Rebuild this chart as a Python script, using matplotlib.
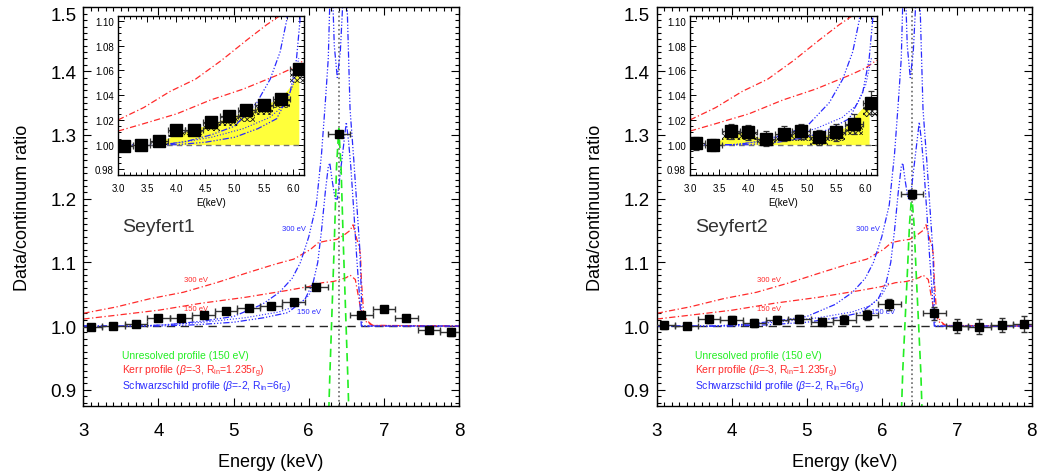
import matplotlib
matplotlib.use("Agg")
import matplotlib.pyplot as plt
from matplotlib.ticker import MultipleLocator

plt.rcParams['font.family'] = ['Liberation Sans', 'DejaVu Sans']
plt.rcParams['mathtext.fontset'] = 'custom'
plt.rcParams['mathtext.rm'] = 'Liberation Sans'
plt.rcParams['mathtext.it'] = 'Liberation Sans:italic'
plt.rcParams['hatch.linewidth'] = 0.6

# binned data (keV centres, bin half width 0.15)
e_bins = [3.1, 3.4, 3.7, 4.0, 4.3, 4.6, 4.9, 5.2, 5.5, 5.8, 6.1, 6.4, 6.7, 7.0, 7.3, 7.6, 7.9]
sy1 = [0.999, 1.000, 1.003, 1.012, 1.012, 1.018, 1.023, 1.028, 1.032, 1.037, 1.061, 1.302,
       1.018, 1.026, 1.012, 0.994, 0.990]
sy1_err = [0.002, 0.002, 0.002, 0.002, 0.002, 0.002, 0.002, 0.002, 0.002, 0.002, 0.003, 0.004,
           0.004, 0.004, 0.004, 0.005, 0.006]
sy2 = [1.001, 1.000, 1.011, 1.010, 1.005, 1.009, 1.011, 1.006, 1.010, 1.017, 1.034, 1.207,
       1.020, 1.000, 0.999, 1.001, 1.003]
sy2_err = [0.005, 0.005, 0.006, 0.006, 0.006, 0.006, 0.006, 0.006, 0.007, 0.008, 0.009, 0.007,
           0.010, 0.011, 0.012, 0.011, 0.012]

# Kerr profiles (red)
kerr300_e = [3.0, 3.44, 3.89, 4.33, 4.77, 5.22, 5.55, 5.80, 6.02, 6.13, 6.25, 6.37, 6.46, 6.55,
             6.59, 6.64, 6.67, 6.69, 6.70, 6.73, 6.78, 6.85, 8.0]
kerr300_r = [1.020, 1.030, 1.043, 1.053, 1.068, 1.085, 1.097, 1.105, 1.120, 1.131, 1.134, 1.136,
             1.142, 1.150, 1.159, 1.136, 1.125, 1.110, 1.073, 1.022, 1.008, 1.001, 1.000]
kerr150_e = [3.0, 3.44, 4.01, 4.58, 5.15, 5.72, 6.0, 6.18, 6.33, 6.42, 6.50, 6.55, 6.62, 6.66,
             6.70, 6.77, 6.85, 8.0]
kerr150_r = [1.011, 1.017, 1.025, 1.036, 1.045, 1.056, 1.062, 1.068, 1.070, 1.073, 1.076, 1.080,
             1.073, 1.047, 1.022, 1.006, 1.001, 1.000]

# Schwarzschild profiles (blue)
schw300_e = [3.0, 3.8, 4.2, 4.6, 5.0, 5.38, 5.61, 5.78, 5.89, 6.0, 6.1, 6.17, 6.22, 6.26, 6.29,
             6.31, 6.34, 6.38, 6.42, 6.45, 6.47, 6.50, 6.55, 6.60, 6.64, 6.68, 6.70, 6.71, 8.0]
schw300_r = [1.0, 1.0, 1.003, 1.008, 1.015, 1.034, 1.053, 1.075, 1.10, 1.14, 1.19, 1.27, 1.35,
             1.42, 1.55, 1.55, 1.44, 1.39, 1.43, 1.50, 1.55, 1.55, 1.34, 1.26, 1.19, 1.12, 1.05,
             1.0, 1.0]
schw150_e = [3.0, 4.0, 4.5, 5.0, 5.4, 5.72, 5.95, 6.06, 6.12, 6.17, 6.22, 6.26, 6.28, 6.31, 6.35,
             6.38, 6.42, 6.46, 6.50, 6.53, 6.56, 6.60, 6.64, 6.68, 6.70, 8.0]
schw150_r = [1.0, 1.0, 1.002, 1.006, 1.013, 1.021, 1.042, 1.069, 1.10, 1.15, 1.21, 1.25, 1.256,
             1.23, 1.20, 1.199, 1.24, 1.28, 1.32, 1.29, 1.25, 1.18, 1.105, 1.04, 1.0, 1.0]
schwdot_e = [3.7, 4.1, 4.6, 5.15, 5.6, 5.85, 6.0, 6.1]
schwdot_r = [1.0, 1.002, 1.006, 1.013, 1.022, 1.032, 1.048, 1.07]

# unresolved gaussian line (green)
gauss_e = [6.15, 6.20, 6.25, 6.28, 6.30, 6.32, 6.34, 6.37, 6.40, 6.43, 6.46, 6.48, 6.50, 6.52,
           6.55, 6.60, 6.65]
gauss1_r = [0.50, 0.60, 0.80, 0.92, 0.99, 1.06, 1.13, 1.25, 1.31, 1.25, 1.13, 1.06, 0.99, 0.92,
            0.80, 0.60, 0.50]
gauss2_r = [0.52, 0.62, 0.82, 0.93, 0.98, 1.03, 1.08, 1.16, 1.207, 1.16, 1.08, 1.03, 0.98, 0.93,
            0.82, 0.62, 0.52]

# inset shading
fill1_e = [3.6, 4.01, 4.58, 5.15, 5.61, 5.83, 6.0, 6.09, 6.10]
fill1_r = [1.0, 1.0087, 1.0167, 1.026, 1.034, 1.040, 1.050, 1.064, 1.064]
fill2_e = [3.43, 3.65, 3.94, 4.34, 4.62, 4.91, 5.14, 5.36, 5.65, 5.93, 6.05, 6.06]
fill2_r = [1.0, 1.010, 1.010, 1.003, 1.008, 1.010, 1.007, 1.008, 1.014, 1.029, 1.034, 1.034]
hatch1_low = [0.999, 1.000, 1.000, 1.006, 1.008, 1.011, 1.015, 1.018, 1.024, 1.030, 1.050]
hatch2_low = [1.001, 1.000, 1.004, 1.004, 1.000, 1.003, 1.003, 1.000, 1.003, 1.008, 1.022]

RED = '#ff2a2a'
BLUE = '#2a2aff'
GREEN = '#22ee22'
red_ls = (0, (5, 2, 1, 2))
blue_ls = (0, (5, 1.5, 1, 1.5, 1, 1.5, 1, 1.5))


def draw_models(ax):
    ax.plot(kerr300_e, kerr300_r, color=RED, ls=red_ls, lw=0.9)
    ax.plot(kerr150_e, kerr150_r, color=RED, ls=red_ls, lw=0.9)
    ax.plot(schw300_e, schw300_r, color=BLUE, ls=blue_ls, lw=0.9)
    ax.plot(schw150_e, schw150_r, color=BLUE, ls=blue_ls, lw=0.9)
    ax.plot(schwdot_e, schwdot_r, color=BLUE, ls=':', lw=0.8)


def draw_panel(ax, data, err, gauss_r, name):
    ax.axhline(1.0, color='0.15', ls=(0, (6, 4)), lw=1.0)
    ax.axvline(6.4, color='0.4', ls=':', lw=1.2)
    draw_models(ax)
    ax.plot(gauss_e, gauss_r, color=GREEN, ls=(0, (5, 3)), lw=1.2)
    ax.errorbar(e_bins, data, xerr=0.15, yerr=err, fmt='s', color='k', ms=6,
                ecolor='0.2', elinewidth=1, capsize=2, capthick=1, zorder=5)
    ax.set_xlim(3, 8)
    ax.set_ylim(0.875, 1.5)
    ax.set_yticks([0.9, 1.0, 1.1, 1.2, 1.3, 1.4, 1.5])
    ax.set_yticklabels(['0.9', '1.0', '1.1', '1.2', '1.3', '1.4', '1.5'])
    ax.get_yticklabels()[-1].set_va('top')
    ax.xaxis.set_minor_locator(MultipleLocator(0.1))
    ax.yaxis.set_minor_locator(MultipleLocator(0.01))
    ax.tick_params(which='both', direction='in', top=True, right=True, width=0.8)
    ax.tick_params(which='major', length=6, labelsize=13.5)
    ax.tick_params(which='minor', length=3)
    ax.tick_params(axis='x', pad=12)
    ax.tick_params(axis='y', pad=5)
    ax.set_xlabel('Energy (keV)', fontsize=13)
    ax.set_ylabel('Data/continuum ratio', fontsize=13)
    ax.xaxis.set_label_coords(0.5, -0.118)
    ax.yaxis.set_label_coords(-0.14, 0.5)
    ax.text(3.51, 1.149, name, fontsize=14, color='#333333')
    ax.text(3.51, 0.955, 'Unresolved profile (150 eV)', fontsize=7.5, color=GREEN, va='center')
    ax.text(3.51, 0.930, r'Kerr profile ($\it{\beta}$=-3, R$_{\rm in}$=1.235r$_{\rm g}$)',
            fontsize=7.5, color=RED, va='center')
    ax.text(3.51, 0.905, r'Schwarzschild profile ($\it{\beta}$=-2, R$_{\rm in}$=6r$_{\rm g}$)',
            fontsize=7.5, color=BLUE, va='center')
    ax.text(5.65, 1.153, '300 eV', fontsize=5.5, color=BLUE, va='center')
    ax.text(5.85, 1.023, '150 eV', fontsize=5.5, color=BLUE, va='center')
    ax.text(4.34, 1.073, '300 eV', fontsize=5.5, color=RED, va='center')
    ax.text(4.34, 1.028, '150 eV', fontsize=5.5, color=RED, va='center')
    for s in ax.spines.values():
        s.set_linewidth(1.0)


def draw_inset(ax, data, err, fill_e, fill_r, hatch_low):
    ax.fill_between(fill_e, 1.0, fill_r, color='#ffff3a', lw=0)
    n = len(hatch_low)
    heights = [data[i] - hatch_low[i] for i in range(n)]
    ax.bar(e_bins[:n], heights, bottom=hatch_low, width=0.3, facecolor='none',
           edgecolor='0.1', hatch='xxxxxx', lw=0)
    ax.axhline(1.0, color='0.45', ls=(0, (4, 3)), lw=1.0)
    draw_models(ax)
    ax.errorbar(e_bins[:n], data[:n], xerr=0.15, yerr=err[:n], fmt='s', color='k', ms=8,
                ecolor='0.2', elinewidth=0.9, capsize=2, capthick=0.9, zorder=5)
    ax.set_xlim(3.0, 6.19)
    ax.set_ylim(0.9755, 1.104)
    ax.set_xticks([3.0, 3.5, 4.0, 4.5, 5.0, 5.5, 6.0])
    ax.set_xticklabels(['3.0', '3.5', '4.0', '4.5', '5.0', '5.5', '6.0'])
    ax.set_yticks([0.98, 1.00, 1.02, 1.04, 1.06, 1.08, 1.10])
    ax.set_yticklabels(['0.98', '1.00', '1.02', '1.04', '1.06', '1.08', '1.10'])
    ax.xaxis.set_minor_locator(MultipleLocator(0.1))
    ax.yaxis.set_minor_locator(MultipleLocator(0.005))
    ax.tick_params(which='both', direction='in', top=True, right=True, width=0.7)
    ax.tick_params(which='major', length=4, labelsize=7)
    ax.tick_params(which='minor', length=2)
    ax.tick_params(axis='x', pad=6)
    ax.tick_params(axis='y', pad=3)
    ax.set_xlabel('E(keV)', fontsize=7)
    ax.xaxis.set_label_coords(0.5, -0.14)
    for s in ax.spines.values():
        s.set_linewidth(1.0)


fig = plt.figure(figsize=(10.38, 4.77), dpi=100)
ax1 = fig.add_axes([0.0803, 0.1474, 0.3619, 0.8348])
ax2 = fig.add_axes([0.6327, 0.1474, 0.3613, 0.8348])
in1 = fig.add_axes([0.1137, 0.6310, 0.1792, 0.3333])
in2 = fig.add_axes([0.6647, 0.6310, 0.1799, 0.3333])

draw_panel(ax1, sy1, sy1_err, gauss1_r, 'Seyfert1')
draw_panel(ax2, sy2, sy2_err, gauss2_r, 'Seyfert2')
draw_inset(in1, sy1, sy1_err, fill1_e, fill1_r, hatch1_low)
draw_inset(in2, sy2, sy2_err, fill2_e, fill2_r, hatch2_low)

fig.savefig('out.png', dpi=100)
